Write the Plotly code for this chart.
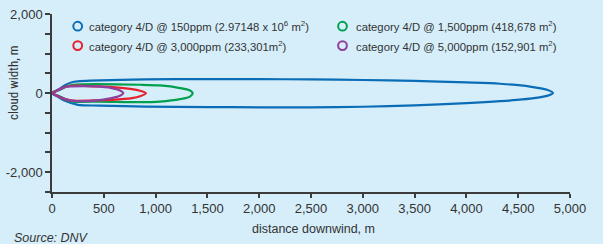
import plotly.graph_objects as go

# ---------------- data ----------------
series_names = [
    "category 4/D @ 150ppm (2.97148 x 10<sup>6</sup> m<sup>2</sup>)",
    "category 4/D @ 1,500ppm (418,678 m<sup>2</sup>)",
    "category 4/D @ 3,000ppm (233,301m<sup>2</sup>)",
    "category 4/D @ 5,000ppm (152,901 m<sup>2</sup>)",
]
series_colors = ["#0b6db6", "#00a04e", "#e6202c", "#8f3f9c"]

# 150 ppm contour (blue)
c150_top_x = [0, 58, 125, 193, 250, 370, 900, 1500, 2000, 2500, 3000, 3500, 4000, 4324, 4614, 4778, 4835]
c150_top_y = [0, 84, 200, 275, 296, 314, 345, 355, 355, 345, 332, 310, 270, 237, 165, 84, 0]
c150_bot_x = [0, 58, 125, 250, 460, 900, 1500, 2000, 2500, 3000, 3500, 4000, 4324, 4614, 4778, 4835]
c150_bot_y = [0, -94, -196, -298, -315, -340, -352, -360, -362, -345, -310, -255, -205, -140, -69, 0]

# 1,500 ppm contour (green)
c1500_top_x = [0, 77, 135, 203, 300, 850, 1042, 1236, 1332, 1358]
c1500_top_y = [0, 84, 160, 212, 224, 212, 194, 128, 66, 0]
c1500_bot_x = [0, 77, 135, 203, 463, 850, 1042, 1236, 1332, 1358]
c1500_bot_y = [0, -84, -160, -214, -214, -230, -214, -153, -87, 0]

# 3,000 ppm contour (red)
c3000_top_x = [0, 29, 125, 193, 463, 579, 772, 850, 907]
c3000_top_y = [0, 41, 153, 186, 168, 153, 102, 60, 0]
c3000_bot_x = [0, 29, 125, 193, 463, 579, 772, 850, 907]
c3000_bot_y = [0, -41, -153, -189, -180, -171, -128, -80, 0]

# 5,000 ppm contour (purple)
c5000_top_x = [0, 29, 125, 190, 415, 576, 656, 688]
c5000_top_y = [0, 41, 153, 168, 168, 128, 66, 0]
c5000_bot_x = [0, 29, 125, 190, 415, 576, 656, 688]
c5000_bot_y = [0, -41, -150, -189, -189, -128, -69, 0]

contours = [
    (c150_top_x, c150_top_y, c150_bot_x, c150_bot_y),
    (c1500_top_x, c1500_top_y, c1500_bot_x, c1500_bot_y),
    (c3000_top_x, c3000_top_y, c3000_bot_x, c3000_bot_y),
    (c5000_top_x, c5000_top_y, c5000_bot_x, c5000_bot_y),
]

x_tick_vals = [0, 500, 1000, 1500, 2000, 2500, 3000, 3500, 4000, 4500, 5000]
y_tick_vals = [2000, 1500, 1000, 500, 0, -500, -1000, -1500, -2000, -2500]
y_tick_text = ["2,000", "", "", "", "0", "", "", "", "-2,000", ""]

x_title = "distance downwind, m"
y_title = "cloud width, m"
source_text = "Source: DNV"

# ---------------- styling ----------------
BG = "#d5eefa"
AX = "#3c3c3c"
TXT = "#333333"
NARROW = "Liberation Sans Narrow, Arial Narrow, Roboto Condensed, sans-serif"
REG = "Liberation Sans, Arial, sans-serif"

fig = go.Figure()
for (tx, ty, bx, by), name, col in zip(contours, series_names, series_colors):
    xs = list(tx) + list(bx[::-1][1:])
    ys = list(ty) + list(by[::-1][1:])
    fig.add_trace(go.Scatter(
        x=xs, y=ys, mode="lines", name=name,
        line=dict(color=col, width=2.2, shape="spline", smoothing=0.8),
        showlegend=False, hoverinfo="skip",
    ))

# legend (two columns of open circles + text)
W, H = 603, 244
ml, mr, mt, mb = 52, 33, 14, 52
pw, ph = W - ml - mr, H - mt - mb


def px2paper(px, py):
    return (px - ml) / pw, (H - mb - py) / ph


legend_pos = [(77.7, 26.2, 87.3), (342.5, 26.2, 354), (77.7, 45.6, 87.3), (342.5, 45.6, 354)]
annotations = []
shapes = []
for i, (cx, cy, tx) in enumerate(legend_pos):
    xp, yp = px2paper(cx, cy)
    shapes.append(dict(type="circle", xref="paper", yref="paper",
                       xsizemode="pixel", ysizemode="pixel",
                       xanchor=xp, yanchor=yp, x0=-4.4, x1=4.4, y0=-4.4, y1=4.4,
                       line=dict(color=series_colors[i], width=2)))
    txp, _ = px2paper(tx, cy)
    annotations.append(dict(text=series_names[i], xref="paper", yref="paper",
                            x=txp, y=yp, xanchor="left", yanchor="middle",
                            showarrow=False,
                            font=dict(family=REG, size=11.3, color=TXT)))

# y-axis title
annotations.append(dict(text=y_title, xref="paper", yref="paper",
                        x=px2paper(13.5, 0)[0], y=px2paper(0, 82.5)[1],
                        xanchor="center", yanchor="middle", textangle=-90,
                        showarrow=False, font=dict(family=NARROW, size=13, color=TXT)))
# x-axis title
annotations.append(dict(text=x_title, xref="paper", yref="paper",
                        x=px2paper(313, 0)[0], y=px2paper(0, 229)[1],
                        xanchor="center", yanchor="middle",
                        showarrow=False, font=dict(family=REG, size=12.5, color=TXT)))
# source
annotations.append(dict(text="<i>" + source_text + "</i>", xref="paper", yref="paper",
                        x=px2paper(12, 0)[0], y=px2paper(0, 238)[1],
                        xanchor="left", yanchor="middle",
                        showarrow=False, font=dict(family=REG, size=12.5, color=TXT)))

fig.update_layout(
    width=W, height=H,
    margin=dict(l=ml, r=mr, t=mt, b=mb, autoexpand=False),
    paper_bgcolor=BG, plot_bgcolor=BG,
    showlegend=False,
    annotations=annotations, shapes=shapes,
    font=dict(family=REG, size=13, color=TXT),
)
fig.update_xaxes(
    range=[0, 5000], tickvals=x_tick_vals, tickformat=",", automargin=False,
    showgrid=False, zeroline=False, showline=True, linecolor=AX, linewidth=1.5,
    ticks="outside", ticklen=4, tickcolor=AX, tickwidth=1.5,
    tickfont=dict(family=REG, size=13, color=TXT),
)
fig.update_yaxes(
    range=[-2500, 2000], tickvals=y_tick_vals, ticktext=y_tick_text, automargin=False,
    showgrid=False, zeroline=False, showline=True, linecolor=AX, linewidth=1.5,
    ticks="outside", ticklen=5, tickcolor=AX, tickwidth=1.5,
    tickfont=dict(family=REG, size=13, color=TXT),
)

fig.write_html(
    "out.html",
    config={"displayModeBar": False},
    post_script="document.documentElement.style.margin='0';"
                "document.body.style.margin='0';document.body.style.padding='0';"
                "document.body.style.overflow='hidden';"
                f"document.body.style.background='{BG}';"
                "var gd=document.getElementById('{plot_id}');"
                "gd.style.position='fixed';gd.style.left='0px';gd.style.top='0px';",
)
